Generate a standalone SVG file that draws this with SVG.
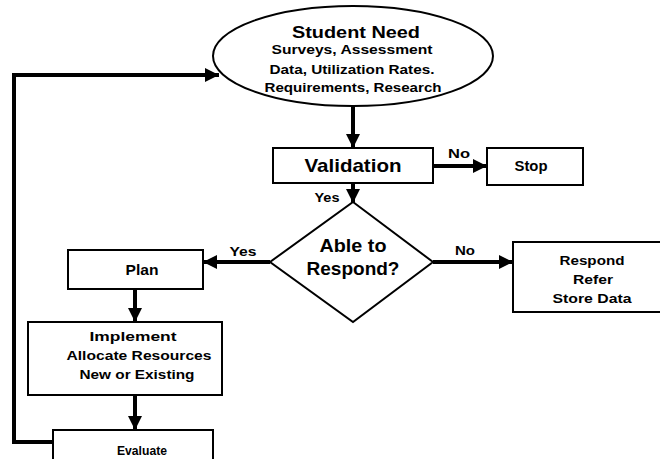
<svg xmlns="http://www.w3.org/2000/svg" width="660" height="459" viewBox="0 0 660 459">
  <style>
    .box { fill: #fff; stroke: #000; stroke-width: 2; }
    .link { fill: none; stroke: #000; stroke-width: 4; }
    text { font-family: "Liberation Sans", Arial, sans-serif; font-weight: bold; fill: #000; text-anchor: middle; }
    .lbl { font-size: 12px; }
    .body { font-size: 13px; }
  </style>
  <defs>
    <marker id="arrow" viewBox="0 0 14 14" refX="14" refY="7" markerWidth="14" markerHeight="14" markerUnits="userSpaceOnUse" orient="auto">
      <path d="M0,0 L14,7 L0,14 z" fill="#000"/>
    </marker>
  </defs>
  <rect width="660" height="459" fill="#fff"/>

  <!-- connectors -->
  <g id="connectors">
    <line class="link" x1="353" y1="106" x2="353" y2="148" marker-end="url(#arrow)"/>
    <line class="link" x1="433" y1="166" x2="487" y2="166" marker-end="url(#arrow)"/>
    <line class="link" x1="353" y1="183" x2="353" y2="203" marker-end="url(#arrow)"/>
    <line class="link" x1="270" y1="262" x2="203" y2="262" marker-end="url(#arrow)"/>
    <line class="link" x1="433" y1="262" x2="513" y2="262" marker-end="url(#arrow)"/>
    <line class="link" x1="135" y1="289" x2="135" y2="322" marker-end="url(#arrow)"/>
    <line class="link" x1="135" y1="395" x2="135" y2="430" marker-end="url(#arrow)"/>
    <polyline class="link" points="53,442 14,442 14,75 219,75" marker-end="url(#arrow)"/>
    <text class="lbl" x="459" y="158" textLength="22" lengthAdjust="spacingAndGlyphs">No</text>
    <text class="lbl" x="327" y="202" textLength="25" lengthAdjust="spacingAndGlyphs">Yes</text>
    <text class="lbl" x="243" y="256" textLength="27" lengthAdjust="spacingAndGlyphs">Yes</text>
    <text class="lbl" x="465" y="255" textLength="20" lengthAdjust="spacingAndGlyphs">No</text>
  </g>

  <g id="student-need">
    <ellipse class="box" cx="353" cy="56" rx="140" ry="50"/>
    <text x="356" y="38" font-size="17" textLength="128" lengthAdjust="spacingAndGlyphs">Student Need</text>
    <text class="body" x="352" y="54" textLength="161" lengthAdjust="spacingAndGlyphs">Surveys, Assessment</text>
    <text class="body" x="352" y="74" textLength="165" lengthAdjust="spacingAndGlyphs">Data, Utilization Rates.</text>
    <text class="body" x="353" y="92" textLength="177" lengthAdjust="spacingAndGlyphs">Requirements, Research</text>
  </g>

  <g id="validation">
    <rect class="box" x="273" y="148" width="160" height="35"/>
    <text x="353" y="172" font-size="19" textLength="97" lengthAdjust="spacingAndGlyphs">Validation</text>
  </g>

  <g id="stop">
    <rect class="box" x="487" y="148" width="96" height="37"/>
    <text x="531" y="171" font-size="14" textLength="33" lengthAdjust="spacingAndGlyphs">Stop</text>
  </g>

  <g id="able-to-respond">
    <polygon class="box" points="353,202 433,262 353,322 270,262"/>
    <text x="353" y="252" font-size="19" textLength="67" lengthAdjust="spacingAndGlyphs">Able to</text>
    <text x="353" y="275" font-size="19" textLength="93" lengthAdjust="spacingAndGlyphs">Respond?</text>
  </g>

  <g id="plan">
    <rect class="box" x="68" y="250" width="135" height="39"/>
    <text x="142" y="275" font-size="14" textLength="33" lengthAdjust="spacingAndGlyphs">Plan</text>
  </g>

  <g id="respond-refer">
    <rect class="box" x="513" y="242" width="160" height="70"/>
    <text class="body" x="592" y="265" textLength="65" lengthAdjust="spacingAndGlyphs">Respond</text>
    <text class="body" x="593" y="284" textLength="40" lengthAdjust="spacingAndGlyphs">Refer</text>
    <text class="body" x="592" y="303" textLength="79" lengthAdjust="spacingAndGlyphs">Store Data</text>
  </g>

  <g id="implement">
    <rect class="box" x="28" y="322" width="194" height="73"/>
    <text class="body" x="133" y="341" textLength="87" lengthAdjust="spacingAndGlyphs">Implement</text>
    <text class="body" x="139" y="360" textLength="145" lengthAdjust="spacingAndGlyphs">Allocate Resources</text>
    <text class="body" x="137" y="379" textLength="115" lengthAdjust="spacingAndGlyphs">New or Existing</text>
  </g>

  <g id="evaluate">
    <rect class="box" x="53" y="430" width="160" height="40"/>
    <text class="body" x="142" y="455" textLength="50" lengthAdjust="spacingAndGlyphs">Evaluate</text>
  </g>
</svg>
